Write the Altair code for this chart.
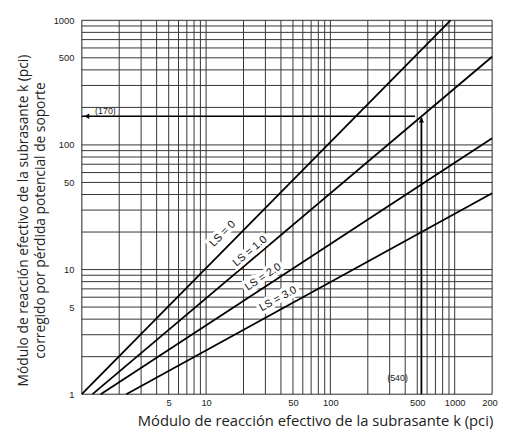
import altair as alt
import pandas as pd

# ---- data ----
ls_names = ["LS = 0", "LS = 1.0", "LS = 2.0", "LS = 3.0"]
k_start = [1.0, 1.22, 1.42, 2.28]
kc_start = [1.0, 1.0, 1.0, 1.0]
k_end = [925, 2000, 2000, 2000]
kc_end = [1000, 510, 113, 41]

label_k = [13.6, 22.6, 28.8, 38.0]
label_kc = [19.3, 14.0, 8.7, 5.8]
label_angle = [314.5, 319.7, 326.8, 331.3]

example_k = 540
example_kc = 170

x_ticks = [5, 10, 50, 100, 500, 1000, 2000]
y_ticks = [1, 5, 10, 50, 100, 500, 1000]
decades = [1, 10, 100, 1000]
mults = [1, 2, 3, 4, 5, 6, 7, 8, 9]
grid_x = [m * d for d in decades for m in mults if m * d <= 2000]
grid_y = [m * d for d in decades for m in mults if m * d <= 1000]

x_title = "Módulo de reacción efectivo de la subrasante k (pci)"
y_title = ["Módulo de reacción efectivo de la subrasante k (pci)",
           "corregido por pérdida potencial de soporte"]

# ---- tables ----
lines_rows = []
for n, a, b, c, d in zip(ls_names, k_start, kc_start, k_end, kc_end):
    lines_rows.append({"name": n, "k": a, "kc": b})
    lines_rows.append({"name": n, "k": c, "kc": d})
lines_df = pd.DataFrame(lines_rows)
labels_df = pd.DataFrame({"name": ls_names, "k": label_k, "kc": label_kc, "angle": label_angle})
gx_df = pd.DataFrame({"k": grid_x})
gy_df = pd.DataFrame({"kc": grid_y})

xscale = alt.Scale(type="log", domain=[1, 2000], nice=False)
yscale = alt.Scale(type="log", domain=[1, 1000], nice=False)

xaxis = alt.Axis(values=x_ticks, grid=False, ticks=False, domain=False, labelPadding=4,
                 labelFontSize=9.5, labelFont="Liberation Sans", labelColor="#222",
                 labelFlush=False, labelOverlap=False, format="d",
                 title=x_title, titleFont="Open Sans", titleFontSize=15,
                 titleFontWeight="normal", titleColor="#222", titleX=237, titleY=32,
                 titleAlign="center", titleBaseline="alphabetic")
yaxis = alt.Axis(values=y_ticks, grid=False, ticks=False, domain=False, labelPadding=8,
                 labelFontSize=9.5, labelFont="Liberation Sans", labelColor="#222",
                 labelOverlap=False, format="d",
                 title=y_title, titleFont="Open Sans", titleFontSize=14,
                 titleFontWeight="normal", titleColor="#222", titleAngle=270,
                 titleX=-66, titleY=203, titleAlign="center", titleBaseline="top",
                 titleLineHeight=17)


def X(field="k"):
    return alt.X(f"{field}:Q", scale=xscale, axis=xaxis)


def Y(field="kc"):
    return alt.Y(f"{field}:Q", scale=yscale, axis=yaxis)


grid_v = alt.Chart(gx_df).mark_rule(color="#333", strokeWidth=1).encode(x=X())
grid_h = alt.Chart(gy_df).mark_rule(color="#333", strokeWidth=1).encode(y=Y())

lines = alt.Chart(lines_df).mark_line(color="black", strokeWidth=1.8).encode(
    x=X(), y=Y(), detail="name:N")

halo = alt.Chart(labels_df).mark_text(font="Liberation Sans", fontSize=11, stroke="white",
                                      strokeWidth=7, fill="white").encode(
    x=X(), y=Y(), text="name:N", angle=alt.Angle("angle:Q", scale=None))
txt = alt.Chart(labels_df).mark_text(font="Liberation Sans", fontSize=11, fill="#111").encode(
    x=X(), y=Y(), text="name:N", angle=alt.Angle("angle:Q", scale=None))

ex_df = pd.DataFrame({"k": [1.0], "k2": [480.0], "kc": [example_kc]})
h_arrow = alt.Chart(ex_df).mark_rule(color="black", strokeWidth=1.5).encode(
    x=X(), x2="k2:Q", y=Y())
h_head = alt.Chart(pd.DataFrame({"k": [1.1], "kc": [example_kc]})).mark_point(
    shape="triangle-left", filled=True, color="black", size=30, opacity=1).encode(x=X(), y=Y())

ev_df = pd.DataFrame({"k": [example_k], "kc": [1.0], "kc2": [165.0]})
v_arrow = alt.Chart(ev_df).mark_rule(color="black", strokeWidth=1.8).encode(
    x=X(), y=Y(), y2="kc2:Q")
v_head = alt.Chart(pd.DataFrame({"k": [example_k], "kc": [158.0]})).mark_point(
    shape="triangle-up", filled=True, color="black", size=30, opacity=1).encode(x=X(), y=Y())

notes_df = pd.DataFrame({"k": [1.55, 347], "kc": [186, 1.34], "t": ["(170)", "(540)"]})
notes = alt.Chart(notes_df).mark_text(font="Liberation Sans", fontSize=9, color="#222").encode(
    x=X(), y=Y(), text="t:N")

chart = alt.layer(grid_v, grid_h, lines, h_arrow, v_arrow, h_head, v_head, halo, txt, notes).properties(
    width=417, height=380,
    autosize=alt.AutoSizeParams(type="none"),
    padding={"left": 75, "top": 9, "right": 6, "bottom": 39},
).configure_view(stroke="black", strokeWidth=1.2).configure(background="white")

chart.save("out.html", embed_options={"renderer": "svg", "actions": False})
